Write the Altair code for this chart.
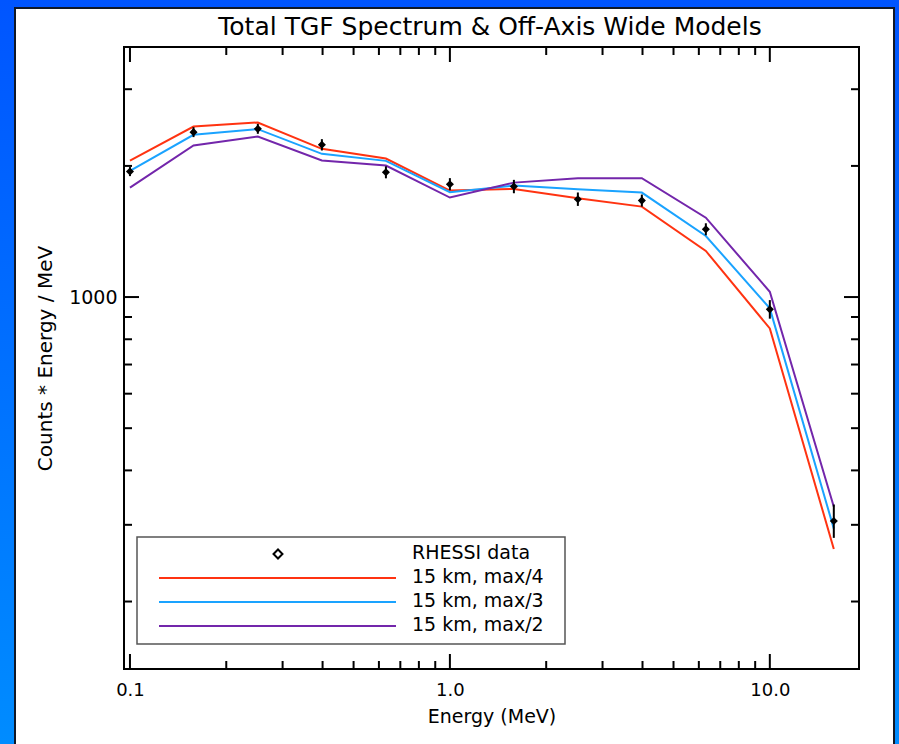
import altair as alt
import pandas as pd

# ---------------- data ----------------
energy = [0.1, 0.158, 0.251, 0.398, 0.631, 1.0, 1.585, 2.512, 3.981, 6.31, 10.0, 15.85]
rhessi = [1941, 2391, 2433, 2236, 1934, 1816, 1793, 1677, 1665, 1431, 937, 306]
rhessi_lo = [1895, 2329, 2370, 2170, 1873, 1759, 1731, 1619, 1613, 1386, 892, 280]
rhessi_hi = [1988, 2455, 2498, 2304, 1996, 1875, 1858, 1738, 1719, 1477, 984, 334]
model_max4 = [2058, 2463, 2516, 2189, 2080, 1756, 1771, 1686, 1613, 1276, 847, 264]
model_max3 = [1949, 2357, 2429, 2132, 2054, 1741, 1803, 1768, 1737, 1381, 942, 294]
model_max2 = [1783, 2228, 2336, 2058, 2004, 1692, 1831, 1875, 1875, 1521, 1028, 330]
series_names = ["15 km, max/4", "15 km, max/3", "15 km, max/2"]
series_colors = ["#ff3311", "#1aa3ff", "#7326ab"]
data_label = "RHESSI data"

x_major = [0.1, 1.0, 10.0]
x_minor = [0.2, 0.3, 0.4, 0.5, 0.6, 0.7, 0.8, 0.9, 2, 3, 4, 5, 6, 7, 8, 9]
y_major = [1000]
y_minor = [200, 300, 400, 500, 600, 700, 800, 900, 2000, 3000]

title_text = "Total TGF Spectrum & Off-Axis Wide Models"
x_title = "Energy (MeV)"
y_title = "Counts * Energy / MeV"

# ---------------- layout ----------------
W, H = 735, 622
PL, PT = 124, 47
PR, PB = 899 - PL - W, 744 - PT - H
FONT = "DejaVu Sans"

xs = alt.Scale(type="log", domain=[0.0958, 19.0], nice=False)
ys = alt.Scale(type="log", domain=[140, 3750], nice=False)

models = pd.DataFrame({
    "energy": energy * 3,
    "value": model_max4 + model_max3 + model_max2,
    "series": [series_names[0]] * len(energy) + [series_names[1]] * len(energy) + [series_names[2]] * len(energy),
    "order": [0] * len(energy) + [1] * len(energy) + [2] * len(energy),
})
pts = pd.DataFrame({"energy": energy, "value": rhessi, "lo": rhessi_lo, "hi": rhessi_hi})
one = pd.DataFrame({"a": [0]})

color_scale = alt.Scale(domain=series_names, range=series_colors)

# background: blue gradient and white panel
bg = alt.Chart(one).mark_rect(
    fill=alt.Gradient(gradient="linear",
                      stops=[alt.GradientStop(offset=0, color="#0055ff"),
                             alt.GradientStop(offset=1, color="#008cff")],
                      x1=0, x2=0, y1=0, y2=1)
).encode(x=alt.value(-PL), x2=alt.value(899 - PL), y=alt.value(-PT), y2=alt.value(744 - PT))

panel = alt.Chart(one).mark_rect(fill="white", stroke="#101828", strokeWidth=2).encode(
    x=alt.value(15 - PL), x2=alt.value(894 - PL), y=alt.value(8 - PT), y2=alt.value(770 - PT))

title = alt.Chart(one).mark_text(text=title_text, align="center", baseline="middle",
                                 font=FONT, fontSize=25, color="black").encode(
    x=alt.value(490 - PL), y=alt.value(27 - PT))

lines = alt.Chart(models).mark_line(strokeWidth=2).encode(
    x=alt.X("energy:Q", scale=xs,
            axis=alt.Axis(values=x_major, format=".1f", ticks=False, domain=False, grid=False,
                          labelFont=FONT, labelFontSize=18, labelColor="black", labelPadding=12,
                          title=x_title, titleFont=FONT, titleFontSize=19, titleFontWeight="normal",
                          titleColor="black", titlePadding=8, zindex=1)),
    y=alt.Y("value:Q", scale=ys,
            axis=alt.Axis(values=y_major, format="d", ticks=False, domain=False, grid=False,
                          labelFont=FONT, labelFontSize=19, labelColor="black", labelPadding=7,
                          title=y_title, titleFont=FONT, titleFontSize=20, titleFontWeight="normal",
                          titleColor="black", titlePadding=13, zindex=1)),
    color=alt.Color("series:N", scale=color_scale, legend=None),
    detail="order:N",
)

errs = alt.Chart(pts).mark_rule(color="black", strokeWidth=2).encode(
    x=alt.X("energy:Q", scale=xs), y=alt.Y("lo:Q", scale=ys), y2="hi:Q")

diamonds = alt.Chart(pts).mark_point(shape="diamond", filled=True, color="black", size=65, opacity=1).encode(
    x=alt.X("energy:Q", scale=xs), y=alt.Y("value:Q", scale=ys))

# inward ticks on all four sides
def xticks(vals, length):
    df = pd.DataFrame({"energy": vals})
    b = alt.Chart(df).mark_rule(color="black", strokeWidth=2).encode(
        x=alt.X("energy:Q", scale=xs), y=alt.value(H), y2=alt.value(H - length))
    t = alt.Chart(df).mark_rule(color="black", strokeWidth=2).encode(
        x=alt.X("energy:Q", scale=xs), y=alt.value(0), y2=alt.value(length))
    return [b, t]

def yticks(vals, length):
    df = pd.DataFrame({"value": vals})
    l = alt.Chart(df).mark_rule(color="black", strokeWidth=2).encode(
        y=alt.Y("value:Q", scale=ys), x=alt.value(0), x2=alt.value(length))
    r = alt.Chart(df).mark_rule(color="black", strokeWidth=2).encode(
        y=alt.Y("value:Q", scale=ys), x=alt.value(W), x2=alt.value(W - length))
    return [l, r]

ticks = xticks(x_major, 15) + xticks(x_minor, 8) + yticks(y_major, 15) + yticks(y_minor, 8)

frame = alt.Chart(one).mark_rect(fill="white", fillOpacity=0, stroke="black", strokeWidth=2).encode(
    x=alt.value(0), x2=alt.value(W), y=alt.value(0), y2=alt.value(H))

# legend box (drawn manually to match the original layout)
LX0, LX1, LY0, LY1 = 13, 441, 490, 597
leg_box = alt.Chart(one).mark_rect(fill="white", stroke="#555555", strokeWidth=1.5).encode(
    x=alt.value(LX0), x2=alt.value(LX1), y=alt.value(LY0), y2=alt.value(LY1))
leg_layers = [leg_box]
leg_layers.append(alt.Chart(one).mark_point(shape="diamond", filled=False, color="black", size=80,
                                            strokeWidth=2, opacity=1).encode(
    x=alt.value(154), y=alt.value(507)))
leg_layers.append(alt.Chart(one).mark_text(text=data_label, align="left", baseline="middle",
                                           font=FONT, fontSize=19, color="black").encode(
    x=alt.value(288), y=alt.value(506)))
row_y = [531, 555, 579]
for i, name in enumerate(series_names):
    leg_layers.append(alt.Chart(pd.DataFrame({"series": [name]})).mark_rule(strokeWidth=2).encode(
        x=alt.value(35), x2=alt.value(272), y=alt.value(row_y[i]),
        color=alt.Color("series:N", scale=color_scale, legend=None)))
    leg_layers.append(alt.Chart(one).mark_text(text=name, align="left", baseline="middle",
                                               font=FONT, fontSize=19, color="black").encode(
        x=alt.value(288), y=alt.value(row_y[i] - 1)))

chart = alt.layer(bg, panel, title, lines, errs, diamonds, *ticks, frame, *leg_layers).properties(
    width=W, height=H,
    padding={"left": PL, "top": PT, "right": PR, "bottom": PB},
    autosize=alt.AutoSizeParams(type="none"),
    background="#0055ff",
).configure_view(stroke=None)

chart.save("out.html", embed_options={"renderer": "svg", "actions": False})
